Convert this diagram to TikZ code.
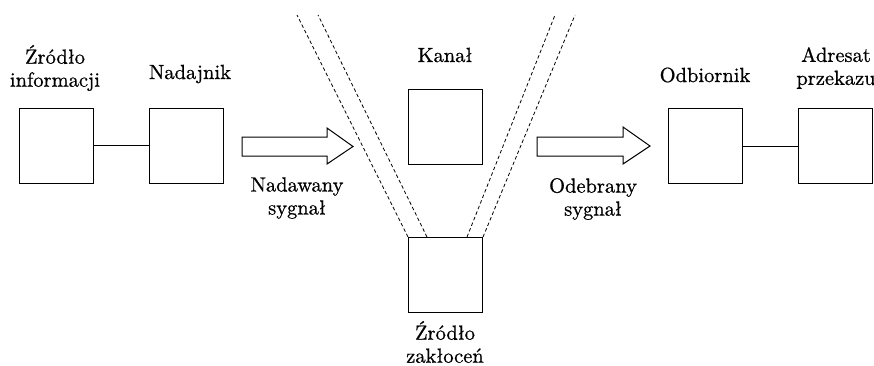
\documentclass[tikz,border=0pt]{standalone}
\usepackage{fontspec}
\newfontfamily\tekst{lmroman10-regular.otf}[FakeBold=0.7]
\begin{document}
\begin{tikzpicture}[x=1pt,y=-1pt,
  blok/.style={draw,line width=1pt,minimum width=74pt,minimum height=75pt,inner sep=0pt},
  opis/.style={font=\tekst\fontsize{20.5}{23}\selectfont,align=center,inner sep=0pt},
  strzalka/.style={draw,line width=1pt,fill=white,line join=miter},
  zaklocenie/.style={draw,line width=0.8pt,dash pattern=on 3.5pt off 2.5pt}]
\useasboundingbox (0,0) rectangle (874,365);

% bloki toru transmisji
\node[blok] (zrodlo) at (56.5,145.5) {};
\node[blok] (nadajnik) at (186,145.5) {};
\node[blok] (kanal) at (445.5,127) {};
\node[blok] (zaklocenia) at (445.5,275) {};
\node[blok] (odbiornik) at (705,146) {};
\node[blok] (adresat) at (835,146) {};

% polaczenia
\draw[line width=1pt] (zrodlo.east) -- (nadajnik.west);
\draw[line width=1pt] (odbiornik.east) -- (adresat.west);

% podpisy
\node[opis] (t1) at (55,68) {Źródło\\informacji};
\node[opis] (t2) at (190,74) {Nadajnik};
\node[opis] (t3) at (445,55) {Kanał};
\node[opis] (t4) at (705,75) {Odbiornik};
\node[opis] (t5) at (836,68) {Adresat\\przekazu};
\node[opis] (t6) at (297,198) {Nadawany\\sygnał};
\node[opis] (t7) at (593,199) {Odebrany\\sygnał};
\node[opis] (t8) at (445,342) {Źródło\\zakłoceń};

% strzalki sygnalu
\draw[strzalka] (242,137) -- (327,137) -- (327,128) -- (353,146.5) -- (327,164)
  -- (327,156) -- (242,156) -- cycle;
\draw[strzalka] (537,137) -- (623,137) -- (623,127) -- (650,146) -- (623,164)
  -- (623,156) -- (537,156) -- cycle;

% linie zaklocen
\coordinate (l1) at (297,15);
\coordinate (l2) at (318,15);
\coordinate (p1) at (555,15);
\coordinate (p2) at (575,15);
\draw[zaklocenie] (zaklocenia.north west) -- (l1);
\draw[zaklocenie] ([xshift=19pt]zaklocenia.north west) -- (l2);
\draw[zaklocenie] ([xshift=-16pt]zaklocenia.north east) -- (p1);
\draw[zaklocenie] (zaklocenia.north east) -- (p2);
\end{tikzpicture}
\end{document}
